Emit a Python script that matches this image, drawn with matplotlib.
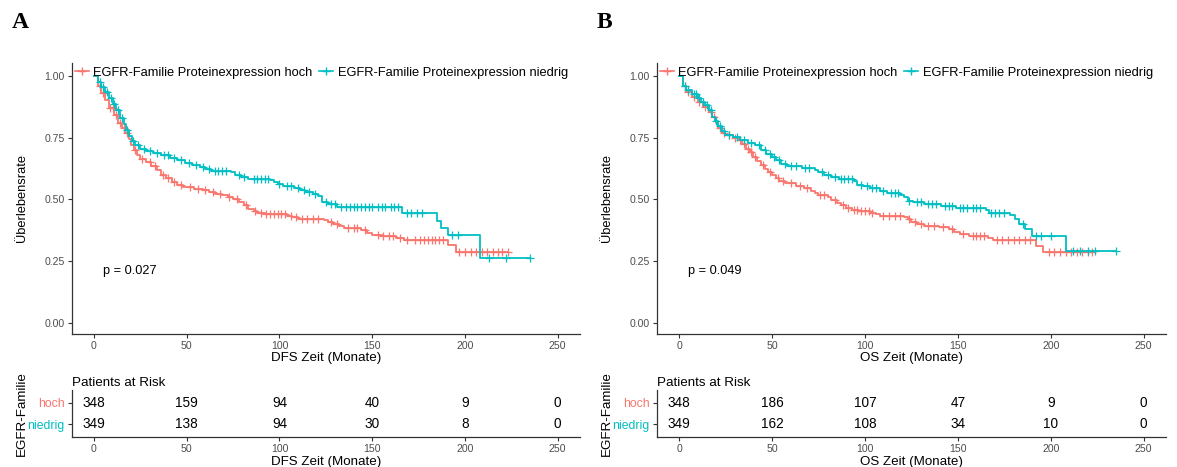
import numpy as np
import matplotlib
matplotlib.use("Agg")
import matplotlib.pyplot as plt
from matplotlib.lines import Line2D

plt.rcParams['font.family'] = ['Liberation Sans', 'DejaVu Sans']

RED = '#F8766D'
TEAL = '#00BFC4'

# ---- Panel A: DFS ----
dfs_hoch_t = [0, 2, 4, 6, 8, 11, 13, 15, 17, 19, 20, 21.5, 23, 25, 28, 31, 34, 36, 39, 42, 45, 48,
              54, 59, 62, 65, 69, 72, 75, 78, 81, 83, 86, 88, 92, 104, 107, 110, 124, 126, 129, 132,
              135, 144, 147, 150, 155, 163, 167, 171, 191, 195, 223]
dfs_hoch_s = [1.0, 0.96, 0.93, 0.90, 0.87, 0.84, 0.81, 0.79, 0.77, 0.745, 0.72, 0.70, 0.68, 0.665,
              0.65, 0.635, 0.62, 0.60, 0.585, 0.57, 0.56, 0.55, 0.543, 0.537, 0.53, 0.524, 0.517,
              0.51, 0.50, 0.49, 0.478, 0.463, 0.452, 0.445, 0.44, 0.435, 0.428, 0.422, 0.416, 0.408,
              0.40, 0.392, 0.383, 0.375, 0.365, 0.358, 0.352, 0.345, 0.338, 0.335, 0.315, 0.287, 0.287]
dfs_hoch_cens = [3, 5, 8.5, 10, 12, 14, 16, 18, 22, 26, 30, 33, 37, 40, 43, 47, 52, 56, 60, 64, 68,
                 73, 77, 82, 87, 90, 93, 95, 97, 99, 101, 103, 106, 109, 112, 115, 118, 121, 128,
                 131, 137, 140, 142, 146, 153, 156, 159, 161, 165, 169, 173, 176, 178, 180, 182,
                 184, 186, 188, 197, 200, 203, 206, 209, 212, 215, 218, 220, 223]

dfs_nied_t = [0, 2, 4, 6, 8, 10, 12, 14, 16, 17.5, 19, 20.5, 22, 25, 28, 32, 36, 41, 45, 49, 53, 57,
              60, 63, 74, 76, 79, 83, 95, 97, 99, 102, 108, 111, 114, 118, 121, 123, 126, 131,
              166, 185, 187, 191, 208, 235]
dfs_nied_s = [1.0, 0.975, 0.955, 0.935, 0.91, 0.885, 0.86, 0.83, 0.805, 0.78, 0.755, 0.735, 0.72,
              0.705, 0.695, 0.688, 0.678, 0.668, 0.658, 0.648, 0.64, 0.632, 0.624, 0.617, 0.61,
              0.60, 0.592, 0.584, 0.578, 0.57, 0.562, 0.553, 0.545, 0.537, 0.53, 0.523, 0.515,
              0.49, 0.48, 0.47, 0.445, 0.415, 0.386, 0.355, 0.264, 0.264]
dfs_nied_cens = [3, 5, 7, 9, 11, 13, 15, 18, 21, 24, 27, 30, 34, 38, 40, 43, 47, 51, 55, 59, 62, 65,
                 67, 69, 71, 78, 81, 86, 88, 90, 92, 94, 100, 104, 106, 110, 113, 116, 119, 125,
                 128, 130, 133, 136, 138, 140, 142, 144, 146, 148, 150, 153, 155, 157, 160, 162,
                 164, 169, 171, 174, 177, 193, 196, 213, 222, 235]

# ---- Panel B: OS ----
os_hoch_t = [0, 2, 4, 7, 10, 13, 16, 18, 20, 21, 23, 25, 29, 32, 34, 36, 38, 40, 42, 44, 46, 48, 50,
             52, 54, 57, 63, 67, 71, 73, 75, 80, 82, 85, 87, 90, 93, 97, 103, 106, 108, 121, 123,
             125, 128, 132, 140, 145, 148, 151, 156, 166, 169, 192, 196, 222]
os_hoch_s = [1.0, 0.96, 0.935, 0.915, 0.895, 0.875, 0.855, 0.835, 0.81, 0.79, 0.77, 0.76, 0.75,
             0.74, 0.725, 0.705, 0.69, 0.672, 0.655, 0.638, 0.622, 0.61, 0.598, 0.588, 0.576,
             0.565, 0.555, 0.545, 0.535, 0.525, 0.517, 0.51, 0.497, 0.486, 0.476, 0.466, 0.458,
             0.453, 0.447, 0.44, 0.435, 0.43, 0.422, 0.41, 0.40, 0.392, 0.388, 0.38, 0.37, 0.36,
             0.352, 0.345, 0.337, 0.314, 0.29, 0.29]
os_hoch_cens = [3, 5, 8, 11, 14, 17, 19, 22, 24, 27, 30, 33, 35, 37, 39, 41, 45, 49, 53, 56, 60, 65,
                69, 76, 78, 84, 88, 91, 94, 96, 98, 100, 102, 104, 110, 113, 116, 119, 124, 127,
                130, 134, 137, 142, 147, 153, 158, 160, 162, 164, 171, 174, 177, 180, 183, 186,
                189, 199, 202, 205, 208, 211, 214, 217, 220, 222]

os_nied_t = [0, 2, 4, 7, 10, 12, 14, 16, 18, 19.5, 21, 23, 25, 29, 33, 37, 41, 44, 47, 50, 52, 55,
             58, 66, 73, 75, 78, 82, 86, 94, 96, 99, 103, 108, 112, 119, 121, 123, 126, 132, 141,
             149, 165, 167, 178, 181, 183, 186, 190, 208, 235]
os_nied_s = [1.0, 0.96, 0.94, 0.925, 0.91, 0.895, 0.88, 0.86, 0.835, 0.815, 0.795, 0.775, 0.76,
             0.752, 0.74, 0.728, 0.718, 0.70, 0.683, 0.67, 0.658, 0.645, 0.635, 0.627, 0.62, 0.61,
             0.60, 0.59, 0.582, 0.575, 0.56, 0.553, 0.545, 0.536, 0.527, 0.52, 0.51, 0.495, 0.488,
             0.48, 0.475, 0.467, 0.458, 0.445, 0.438, 0.422, 0.40, 0.382, 0.352, 0.292, 0.292]
os_nied_cens = [3, 5, 8, 9, 11, 13, 15, 17, 20, 22, 24, 27, 31, 35, 39, 43, 46, 49, 51, 54, 57, 60,
                63, 68, 70, 77, 80, 84, 87, 89, 91, 93, 98, 101, 104, 106, 110, 114, 116, 118, 124,
                128, 130, 134, 136, 138, 143, 145, 147, 151, 153, 155, 158, 160, 162, 168, 170,
                172, 175, 185, 192, 195, 200, 212, 216, 220, 224, 235]

risk_times = [0, 50, 100, 150, 200, 250]
dfs_risk_hoch = [348, 159, 94, 40, 9, 0]
dfs_risk_nied = [349, 138, 94, 30, 8, 0]
os_risk_hoch = [348, 186, 107, 47, 9, 0]
os_risk_nied = [349, 162, 108, 34, 10, 0]

group_labels = ['hoch', 'niedrig']
legend_labels = ['EGFR-Familie Proteinexpression hoch', 'EGFR-Familie Proteinexpression niedrig']

W, H = 1177, 467
fig = plt.figure(figsize=(W / 100, H / 100), dpi=100)

AXC = '#333333'
TXT = '#4D4D4D'


def style(ax):
    for s in ['top', 'right']:
        ax.spines[s].set_visible(False)
    for s in ['left', 'bottom']:
        ax.spines[s].set_color(AXC)
        ax.spines[s].set_linewidth(0.9)
    ax.tick_params(colors=AXC, length=3, width=0.8, labelsize=7.6, labelcolor=TXT, pad=2)


def panel(x_left, x_right, letter, curves, risk_h, risk_n, xlabel, pval):
    left = x_left / W
    width = (x_right - x_left) / W
    ax = fig.add_axes([left, (H - 334) / H, width, (334 - 63) / H])
    style(ax)
    handles = []
    for t, s, cens, col in curves:
        ax.step(t, s, where='post', color=col, lw=1.3)
        idx = np.searchsorted(t, cens, side='right') - 1
        ax.plot(cens, np.array(s)[idx], '+', color=col, ms=5.5, mew=0.9)
        handles.append(Line2D([], [], color=col, lw=1.2, marker='+', ms=6, mew=1.0))
    ax.set_xlim(-12, 262)
    ax.set_ylim(-0.043, 1.051)
    ax.set_xticks(risk_times)
    ax.set_yticks([0, 0.25, 0.5, 0.75, 1.0])
    ax.set_yticklabels(['0.00', '0.25', '0.50', '0.75', '1.00'])
    ax.set_xlabel(xlabel, fontsize=9.6, color='black', labelpad=1)
    ax.text(5, 0.21, pval, fontsize=9.2, ha='left', va='center')
    fig.legend(handles, legend_labels, loc='center left',
               bbox_to_anchor=((x_left + 3) / W, 1 - 73 / H), ncol=2, frameon=False,
               fontsize=9.3, handlelength=1.1, handletextpad=0.35, columnspacing=0.5,
               borderaxespad=0, borderpad=0)
    fig.text((x_left - 50) / W, (H - 198.5) / H, 'Überlebensrate', rotation=90,
             ha='center', va='center', fontsize=9.3)
    fig.text((x_left - 60) / W, 1 - 22 / H, letter, fontsize=17, fontweight='bold',
             family='Liberation Serif', ha='left', va='center')

    # risk table
    rt = fig.add_axes([left, (H - 437.3) / H, width, (437.3 - 390) / H])
    style(rt)
    rt.set_xlim(-12, 262)
    rt.set_ylim(2.62, 0.40)
    for row, vals in [(1, risk_h), (2, risk_n)]:
        for x, v in zip(risk_times, vals):
            rt.text(x, row, str(v), ha='center', va='center', fontsize=9.8)
    rt.set_xticks(risk_times)
    rt.set_yticks([1, 2])
    rt.set_yticklabels(group_labels, fontsize=8.8)
    for lab, col in zip(rt.get_yticklabels(), [RED, TEAL]):
        lab.set_color(col)
    rt.set_xlabel(xlabel, fontsize=9.6, color='black', labelpad=1)
    rt.set_title('Patients at Risk', loc='left', fontsize=9.6, pad=3)
    fig.text((x_left - 50) / W, (H - 414) / H, 'EGFR-Familie', rotation=90,
             ha='center', va='center', fontsize=9.6)


panel(71.7, 580, 'A',
      [(dfs_hoch_t, dfs_hoch_s, dfs_hoch_cens, RED), (dfs_nied_t, dfs_nied_s, dfs_nied_cens, TEAL)],
      dfs_risk_hoch, dfs_risk_nied, 'DFS Zeit (Monate)', 'p = 0.027')
panel(656.7, 1166, 'B',
      [(os_hoch_t, os_hoch_s, os_hoch_cens, RED), (os_nied_t, os_nied_s, os_nied_cens, TEAL)],
      os_risk_hoch, os_risk_nied, 'OS Zeit (Monate)', 'p = 0.049')

fig.savefig('out.png', dpi=100)
